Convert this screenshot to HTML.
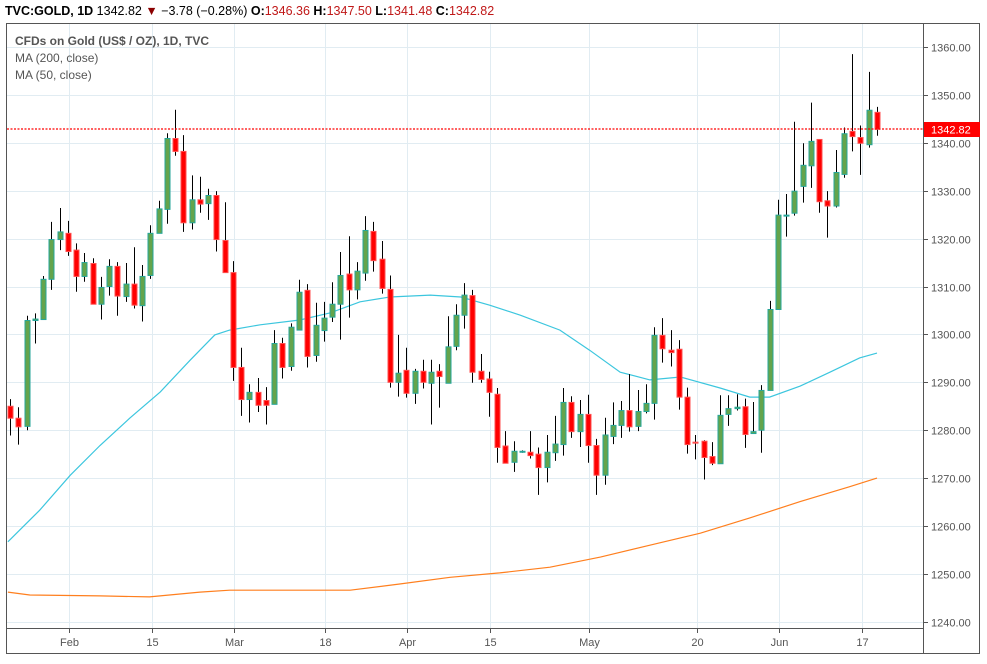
<!DOCTYPE html>
<html><head><meta charset="utf-8">
<style>
html,body{margin:0;padding:0;background:#fff;}
body{width:987px;height:659px;overflow:hidden;font-family:"Liberation Sans",sans-serif;}
svg text{font-family:"Liberation Sans",sans-serif;}
</style></head>
<body>
<svg id="chart" width="987" height="659" viewBox="0 0 987 659" xmlns="http://www.w3.org/2000/svg">
  <g id="grid"></g>
  <g id="ma200"></g>
  <g id="ma50"></g>
  <g id="candles"></g>
  <line id="lastLine" x1="7" x2="923" stroke="#ff0000" stroke-width="1.3" stroke-dasharray="2,1.5"/>
  <rect x="6.5" y="23.5" width="973" height="630" fill="none" stroke="#555" stroke-width="1"/>
  <line x1="923.5" y1="23" x2="923.5" y2="653" stroke="#555"/>
  <line x1="7" y1="628.5" x2="923" y2="628.5" stroke="#555"/>
  <g id="yaxis"></g>
  <g id="xaxis"></g>
  <g id="priceTag"></g>
  <text x="5" y="15" font-size="12.5" fill="#000"><tspan font-weight="bold">TVC:GOLD, 1D</tspan><tspan> 1342.82 </tspan><tspan fill="#8b0000">▼</tspan><tspan> −3.78 (−0.28%) </tspan><tspan font-weight="bold">O:</tspan><tspan fill="#c01818">1346.36 </tspan><tspan font-weight="bold">H:</tspan><tspan fill="#c01818">1347.50 </tspan><tspan font-weight="bold">L:</tspan><tspan fill="#c01818">1341.48 </tspan><tspan font-weight="bold">C:</tspan><tspan fill="#c01818">1342.82</tspan></text>
  <text x="15" y="45" font-size="12" fill="#555" font-weight="bold">CFDs on Gold (US$ / OZ), 1D, TVC</text>
  <text x="15" y="62" font-size="12" fill="#555">MA (200, close)</text>
  <text x="15" y="79" font-size="12" fill="#555">MA (50, close)</text>
</svg>
<script>
const opens  = [1285.0,1282.5,1280.8,1302.9,1303.1,1311.5,1319.8,1321.1,1317.6,1312.1,1314.8,1306.3,1310.0,1314.2,1307.9,1310.5,1306.0,1312.3,1321.1,1326.1,1340.9,1338.2,1323.3,1328.1,1327.3,1329.0,1319.6,1312.9,1293.1,1286.4,1287.9,1286.2,1285.4,1298.1,1293.3,1300.9,1309.2,1295.6,1300.8,1303.6,1306.3,1312.6,1309.3,1312.8,1321.5,1315.7,1309.4,1290.0,1292.5,1287.7,1292.3,1289.8,1292.3,1289.8,1297.5,1304.0,1308.1,1292.3,1290.7,1287.5,1276.7,1273.3,1275.5,1275.4,1275.0,1272.2,1275.3,1277.0,1285.8,1279.7,1283.3,1276.8,1270.6,1278.7,1281.0,1284.1,1280.8,1283.9,1285.6,1299.8,1296.7,1296.9,1286.9,1277.5,1277.7,1274.5,1273.0,1283.3,1284.5,1284.9,1279.3,1280.0,1288.3,1305.2,1324.9,1325.3,1330.9,1335.2,1340.7,1327.9,1326.8,1333.4,1342.4,1341.1,1339.6,1346.36];
const highs  = [1286.5,1284.8,1303.9,1304.4,1312.2,1323.5,1326.4,1323.7,1319.0,1317.0,1315.9,1312.0,1315.7,1315.1,1314.9,1318.2,1314.5,1322.8,1327.9,1342.0,1346.9,1341.6,1333.2,1332.9,1330.4,1329.9,1327.6,1315.3,1297.2,1289.6,1290.9,1289.0,1300.9,1299.3,1302.3,1311.4,1310.5,1306.6,1306.8,1310.9,1317.2,1320.5,1315.1,1324.7,1323.5,1319.5,1312.3,1299.9,1297.2,1292.8,1294.7,1294.7,1293.8,1303.8,1306.3,1310.7,1309.3,1295.9,1292.2,1288.8,1279.8,1277.7,1275.8,1279.8,1276.4,1279.0,1283.0,1288.8,1287.1,1286.3,1287.4,1278.2,1282.6,1285.8,1286.1,1291.7,1288.4,1289.6,1301.5,1303.4,1300.9,1298.8,1288.9,1279.0,1277.9,1277.5,1287.3,1287.3,1287.5,1286.6,1285.9,1289.4,1307.0,1328.1,1329.3,1344.4,1339.9,1348.4,1340.7,1329.9,1338.5,1343.2,1358.5,1343.6,1354.8,1347.50];
const lows   = [1278.9,1277.0,1280.0,1298.1,1303.1,1309.3,1317.6,1316.4,1308.9,1311.0,1306.3,1303.1,1308.1,1303.9,1306.8,1305.4,1302.7,1311.6,1323.2,1323.1,1337.3,1321.4,1321.9,1325.4,1323.9,1317.3,1312.9,1290.3,1283.0,1281.6,1283.8,1281.2,1285.4,1290.8,1292.4,1300.9,1293.1,1294.3,1298.5,1302.6,1298.9,1303.5,1307.3,1311.2,1313.1,1308.5,1288.9,1287.0,1286.8,1285.5,1288.7,1281.2,1284.7,1289.8,1296.7,1301.2,1289.9,1289.9,1282.8,1273.2,1273.1,1271.3,1275.3,1274.1,1266.5,1269.1,1273.6,1274.7,1278.4,1276.5,1273.2,1266.5,1268.6,1277.1,1278.4,1279.7,1279.8,1283.5,1282.2,1294.1,1293.3,1284.3,1275.1,1273.9,1269.7,1272.7,1273.0,1280.9,1284.1,1276.3,1279.3,1275.3,1288.3,1305.2,1320.4,1324.8,1327.5,1330.6,1325.4,1320.2,1326.5,1332.7,1338.2,1333.3,1339.0,1341.48];
const closes = [1282.5,1280.7,1302.9,1303.2,1311.5,1319.8,1321.4,1317.3,1312.1,1315.0,1306.3,1309.8,1314.2,1308.0,1310.5,1306.1,1312.1,1321.1,1326.2,1340.9,1338.2,1323.3,1328.1,1327.2,1329.0,1319.8,1312.9,1293.1,1286.4,1287.9,1285.2,1285.2,1298.1,1293.1,1301.5,1308.8,1295.4,1301.9,1303.4,1306.3,1312.3,1309.3,1313.2,1321.7,1315.4,1309.6,1290.0,1291.9,1287.7,1292.3,1290.0,1292.1,1291.2,1297.4,1304.0,1308.2,1292.1,1290.6,1287.9,1276.4,1273.1,1275.6,1275.6,1274.7,1272.2,1275.4,1277.1,1285.8,1279.7,1283.3,1276.8,1270.6,1279.0,1281.0,1284.1,1280.7,1283.9,1285.6,1299.8,1297.0,1296.2,1286.9,1277.0,1277.3,1274.3,1273.1,1283.1,1284.5,1284.8,1279.1,1279.7,1288.3,1305.2,1324.9,1324.9,1329.9,1335.3,1340.3,1327.7,1326.8,1333.8,1341.9,1341.3,1339.9,1346.8,1342.82];
const ma50Idx  = [-0.25,3.6,7.3,10.9,14.5,18.2,21.8,24.8,26.6,30.3,35.1,38.8,42.4,46.0,50.9,54.6,58.1,61.8,66.6,70.2,73.9,77.5,81.2,86.0,89.6,92.0,95.7,99.3,102.9,105];
const ma50Val  = [1256.7,1263.3,1270.6,1276.8,1282.5,1288.0,1294.6,1299.9,1300.9,1302.0,1303.0,1304.5,1306.8,1307.8,1308.2,1307.8,1306.1,1304.0,1300.9,1296.7,1292.1,1290.5,1291.1,1288.8,1286.9,1286.9,1289.2,1292.1,1295.1,1296.1];
const ma200Idx = [-0.25,2.4,10.9,16.9,23.0,26.6,35.1,41.2,47.2,53.3,59.3,65.4,71.5,77.5,83.6,89.6,95.7,101.7,105];
const ma200Val = [1246.2,1245.6,1245.4,1245.2,1246.2,1246.6,1246.6,1246.6,1247.9,1249.3,1250.2,1251.4,1253.5,1256.0,1258.5,1261.7,1265.1,1268.2,1270.0];
const yTicks = [1240,1250,1260,1270,1280,1290,1300,1310,1320,1330,1340,1350,1360];
const xTickLabels = ["Feb","15","Mar","18","Apr","15","May","20","Jun","17"];
const xTickIdx = [7.1,17.2,27.1,38.1,48.1,58.1,70.1,83.2,93.1,103.2];
const lastPrice = 1342.82;

const NS="http://www.w3.org/2000/svg";
function yOf(v){return 47+(1360-v)*4.79;}
function xOf(i){return 10+i*8.257;}
function mk(tag,attrs,parent){const e=document.createElementNS(NS,tag);for(const k in attrs)e.setAttribute(k,attrs[k]);parent.appendChild(e);return e;}

const grid=document.getElementById('grid');
const yaxis=document.getElementById('yaxis');
yTicks.forEach(v=>{
  const y=Math.round(yOf(v))+0.5;
  const g=mk('line',{x1:7,x2:923,y1:y,y2:y,stroke:'#e1ecf2','stroke-width':1},grid);
  
  
  const t=mk('line',{x1:923,x2:928,y1:y,y2:y,stroke:'#555'},yaxis);
  
  
  const tx=mk('text',{x:931,y:y+4,'font-size':11,fill:'#555'},yaxis);
  tx.textContent=v.toFixed(2);
  
  
});
const xaxis=document.getElementById('xaxis');
xTickLabels.forEach((lab,k)=>{
  const x=Math.round(xOf(xTickIdx[k]))+0.5;
  const g=mk('line',{x1:x,x2:x,y1:24,y2:628,stroke:'#e1ecf2','stroke-width':1},grid);
  
  
  const t=mk('line',{x1:x,x2:x,y1:628,y2:633,stroke:'#555'},xaxis);
  
  
  const tx=mk('text',{x:x,y:646,'font-size':11,fill:'#555','text-anchor':'middle'},xaxis);
  tx.textContent=lab;
  
  
});

function drawLine(idx,val,color,parent,name){
  const pts=idx.map((i,k)=>xOf(i).toFixed(1)+','+yOf(val[k]).toFixed(1)).join(' ');
  const p=mk('polyline',{points:pts,fill:'none',stroke:color,'stroke-width':1.2},parent);
  
  
}
drawLine(ma200Idx,ma200Val,'#ff7f1e',document.getElementById('ma200'),'ma-200-path');
drawLine(ma50Idx,ma50Val,'#3cc6de',document.getElementById('ma50'),'ma-50-path');

const cg=document.getElementById('candles');
opens.forEach((o,i)=>{
  const c=closes[i],h=highs[i],l=lows[i];
  const x=Math.round(xOf(i));
  const up=c>=o;
  const g=mk('g',{},cg);
  
  
  const w=mk('line',{x1:x+0.5,x2:x+0.5,y1:yOf(h),y2:yOf(l),stroke:'#000','stroke-width':1},g);
  
  
  const top=yOf(Math.max(o,c)),bot=yOf(Math.min(o,c));
  const b=mk('rect',{x:x-2,y:top,width:5,height:Math.max(1,bot-top),fill:up?'#64a44c':'#ff0000',stroke:up?'#26a69a':'#ff5050','stroke-width':1},g);
  
  
});

const ly=Math.round(yOf(lastPrice));
const ll=document.getElementById('lastLine');ll.setAttribute('y1',ly);ll.setAttribute('y2',ly);
const pt=document.getElementById('priceTag');
const r=mk('rect',{x:924,y:ly-7,width:56,height:15,fill:'#ff0000'},pt);


const tt=mk('text',{x:931,y:ly+4.5,'font-size':11,fill:'#fff'},pt);
tt.textContent=lastPrice.toFixed(2);


</script>
</body></html>
